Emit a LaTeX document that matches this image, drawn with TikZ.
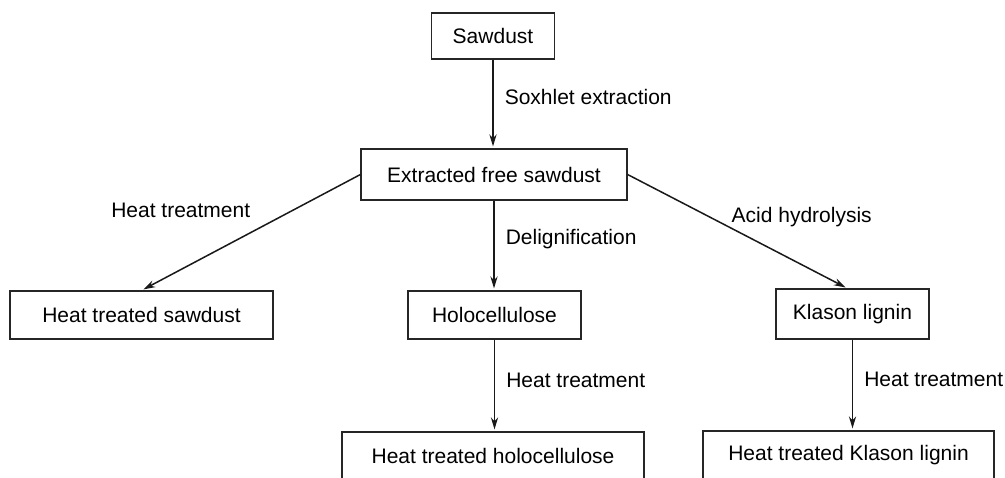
\documentclass[tikz,border=0pt]{standalone}
\usepackage{fontspec}
\setmainfont{Liberation Sans}
\usetikzlibrary{arrows.meta, positioning}

\begin{document}
\begin{tikzpicture}[x=0.5pt, y=-0.5pt,
  every node/.style={font=\fontsize{10.5}{12}\selectfont, inner sep=0pt},
  stagebox/.style={draw=black!85, line width=0.6pt, minimum height=24pt},
  flow/.style={draw=black!90, line width=0.75pt,
    -{Stealth[length=6pt,width=3.6pt]}, shorten >=1pt},
  proc/.style={anchor=base west, xshift=5.5pt}]
\useasboundingbox (0,0) rectangle (1005,477);

% stages
\node [stagebox, minimum width=61.5pt, minimum height=23pt] (saw) at (493,36) {Sawdust};
\node [stagebox, minimum width=133pt, minimum height=25.5pt] (efs) at (494,174.5) {Extracted free sawdust};
\node [stagebox, minimum width=131.5pt] (hts) at (141.5,315) {Heat treated sawdust};
\node [stagebox, minimum width=86.5pt] (holo) at (494.5,315) {Holocellulose};
\node [stagebox, minimum width=76.5pt, minimum height=25pt] (kl) at (852.5,314) {Klason lignin};
\node [stagebox, minimum width=151pt] (hth) at (493,456) {Heat treated holocellulose};
\node [stagebox, minimum width=145.5pt] (htk) at (848.5,455) {Heat treated Klason lignin};

% treatments
\draw [flow] (saw.south) -- node[proc, pos=0.5]{Soxhlet extraction} (saw.south |- efs.north);
\draw [flow] (efs.west) -- node[pos=0.5, anchor=base east, yshift=7.5pt]{Heat treatment} (hts.north);
\draw [flow] (efs.south) -- node[proc, pos=0.49]{Delignification} (efs.south |- holo.north);
\draw [flow] (efs.east) -- node[pos=0.47, anchor=base west, yshift=3pt]{Acid hydrolysis} ([xshift=-2.5pt]kl.north);
\draw [flow] (holo.south) -- node[proc, pos=0.52]{Heat treatment} (holo.south |- hth.north);
\draw [flow] (kl.south) -- node[proc, pos=0.52]{Heat treatment} (kl.south |- htk.north);

\end{tikzpicture}
\end{document}
